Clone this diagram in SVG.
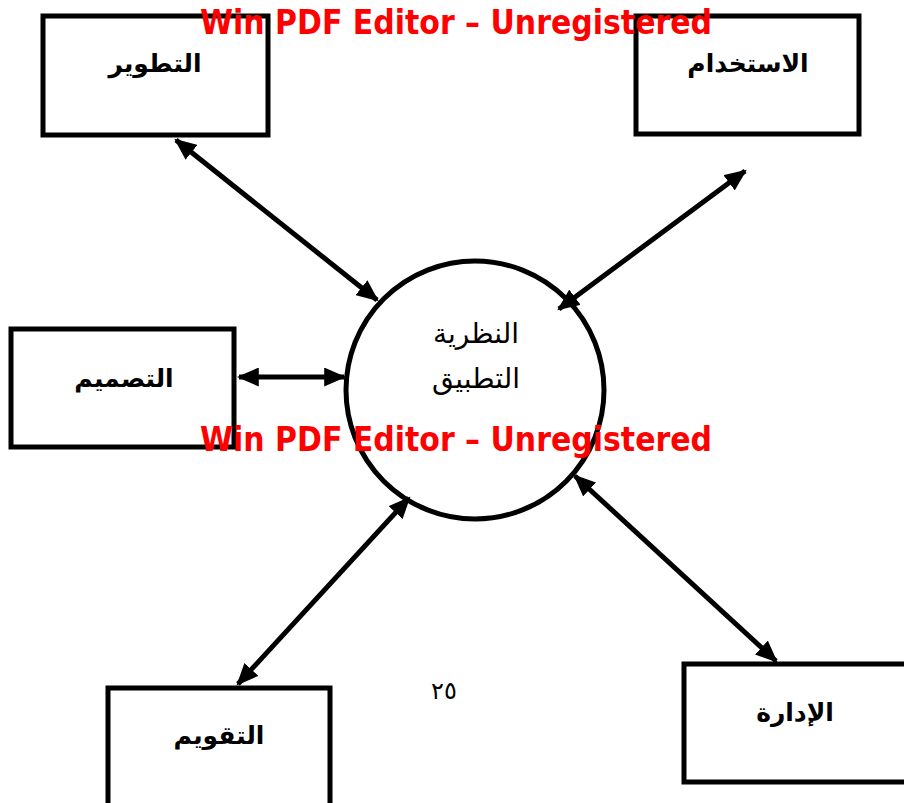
<svg xmlns="http://www.w3.org/2000/svg" width="904" height="803" viewBox="0 0 904 803">
<style>
.box{fill:#fff;stroke:#000;stroke-width:5}
.lbl{font-family:"DejaVu Sans","Noto Sans",sans-serif;font-weight:bold;font-size:25px;text-anchor:middle;fill:#000}
.ctr{font-family:"DejaVu Sans","Noto Sans",sans-serif;font-size:28px;text-anchor:middle;fill:#000}
.con{stroke:#000;stroke-width:5;fill:none;marker-start:url(#ah);marker-end:url(#ah)}
.wm{font-family:"DejaVu Sans",sans-serif;font-weight:bold;font-size:34px;fill:#f00}
</style>
<defs>
<marker id="ah" viewBox="0 0 10 10" refX="9" refY="5" markerWidth="22" markerHeight="19" markerUnits="userSpaceOnUse" orient="auto-start-reverse" preserveAspectRatio="none">
<path d="M0,0 L10,5 L0,10 z" fill="#000"/>
</marker>
</defs>
<rect width="904" height="803" fill="#fff"/>
<g id="connectors">
<line class="con" x1="176" y1="140" x2="377" y2="300"/>
<line class="con" x1="745" y1="171" x2="559" y2="309"/>
<line class="con" x1="239" y1="377" x2="344" y2="377"/>
<line class="con" x1="409" y1="498" x2="238" y2="684"/>
<line class="con" x1="575" y1="476" x2="776" y2="661"/>
</g>
<g id="node-center">
<circle cx="475" cy="390" r="129" fill="none" stroke="#000" stroke-width="5"/>
<text class="ctr" x="476" y="343">النظرية</text>
<text class="ctr" x="476" y="388">التطبيق</text>
</g>
<g id="node-development">
<rect class="box" x="43" y="16" width="225" height="119"/>
<text class="lbl" x="155" y="72">التطوير</text>
</g>
<g id="node-usage">
<rect class="box" x="636" y="16" width="223" height="118"/>
<text class="lbl" x="748" y="72">الاستخدام</text>
</g>
<g id="node-design">
<rect class="box" x="11" y="329" width="223" height="118"/>
<text class="lbl" x="124" y="387">التصميم</text>
</g>
<g id="node-evaluation">
<rect class="box" x="108" y="688" width="222" height="130"/>
<text class="lbl" x="219" y="744">التقويم</text>
</g>
<g id="node-management">
<rect class="box" x="684" y="664" width="230" height="118"/>
<text class="lbl" x="795" y="721">الإدارة</text>
</g>
<text x="444" y="699" font-family="DejaVu Sans,sans-serif" font-size="24" text-anchor="middle">٢٥</text>
<text class="wm" x="200" y="34" textLength="512" lengthAdjust="spacingAndGlyphs">Win PDF Editor – Unregistered</text>
<text class="wm" x="200" y="451" textLength="512" lengthAdjust="spacingAndGlyphs">Win PDF Editor – Unregistered</text>
</svg>
